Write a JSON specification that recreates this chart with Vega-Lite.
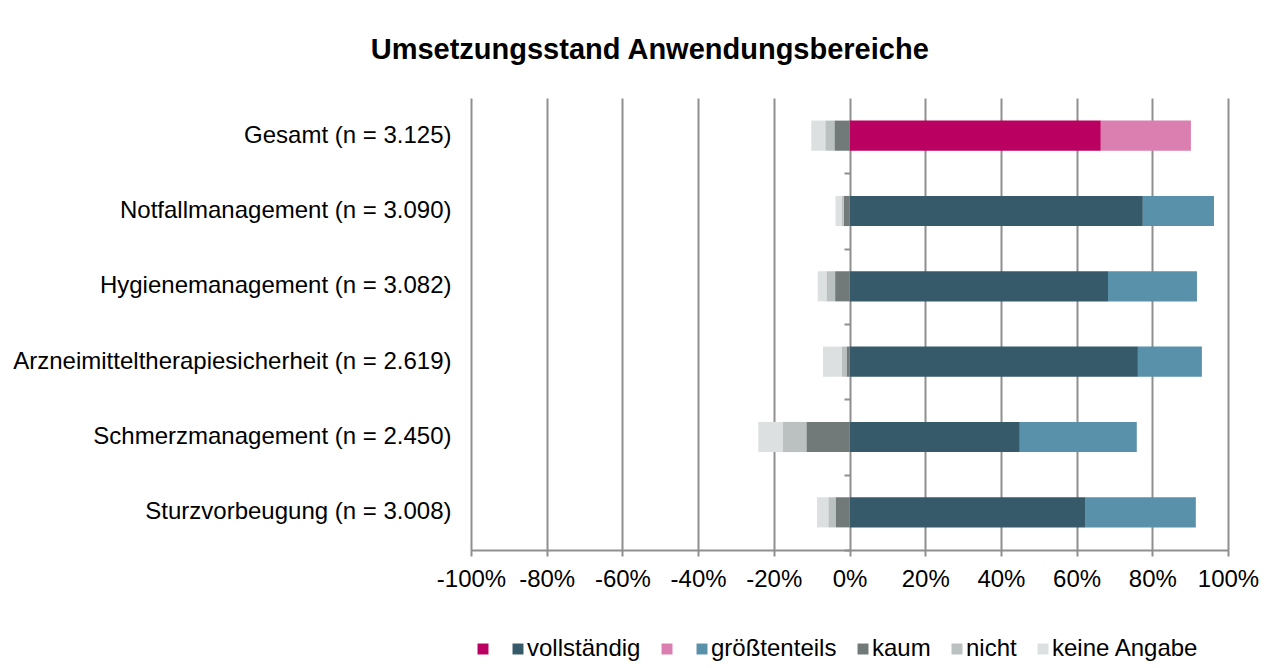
{
  "$schema": "https://vega.github.io/schema/vega-lite/v6.json",
  "width": 757,
  "height": 452,
  "padding": {"left": 12, "top": 36, "right": 20, "bottom": 5},
  "background": "white",
  "title": {
    "text": "Umsetzungsstand Anwendungsbereiche",
    "font": "Liberation Sans",
    "fontSize": 29,
    "fontWeight": "bold",
    "color": "black",
    "frame": "bounds",
    "anchor": "middle",
    "dx": 14,
    "offset": 33
  },
  "config": {
    "font": "Liberation Sans",
    "view": {"stroke": null}
  },
  "data": {
    "values": [
      {"bereich": "Gesamt (n = 3.125)", "antwort": "vollständig", "wert": 66.4},
      {"bereich": "Gesamt (n = 3.125)", "antwort": "größtenteils", "wert": 23.8},
      {"bereich": "Gesamt (n = 3.125)", "antwort": "kaum", "wert": -4.0},
      {"bereich": "Gesamt (n = 3.125)", "antwort": "nicht", "wert": -2.4},
      {"bereich": "Gesamt (n = 3.125)", "antwort": "keine Angabe", "wert": -3.7},
      {"bereich": "Notfallmanagement (n = 3.090)", "antwort": "vollständig", "wert": 77.5},
      {"bereich": "Notfallmanagement (n = 3.090)", "antwort": "größtenteils", "wert": 18.8},
      {"bereich": "Notfallmanagement (n = 3.090)", "antwort": "kaum", "wert": -1.5},
      {"bereich": "Notfallmanagement (n = 3.090)", "antwort": "nicht", "wert": -0.6},
      {"bereich": "Notfallmanagement (n = 3.090)", "antwort": "keine Angabe", "wert": -1.6},
      {"bereich": "Hygienemanagement (n = 3.082)", "antwort": "vollständig", "wert": 68.3},
      {"bereich": "Hygienemanagement (n = 3.082)", "antwort": "größtenteils", "wert": 23.5},
      {"bereich": "Hygienemanagement (n = 3.082)", "antwort": "kaum", "wert": -3.8},
      {"bereich": "Hygienemanagement (n = 3.082)", "antwort": "nicht", "wert": -2.3},
      {"bereich": "Hygienemanagement (n = 3.082)", "antwort": "keine Angabe", "wert": -2.3},
      {"bereich": "Arzneimitteltherapiesicherheit (n = 2.619)", "antwort": "vollständig", "wert": 76.2},
      {"bereich": "Arzneimitteltherapiesicherheit (n = 2.619)", "antwort": "größtenteils", "wert": 16.9},
      {"bereich": "Arzneimitteltherapiesicherheit (n = 2.619)", "antwort": "kaum", "wert": -0.8},
      {"bereich": "Arzneimitteltherapiesicherheit (n = 2.619)", "antwort": "nicht", "wert": -1.3},
      {"bereich": "Arzneimitteltherapiesicherheit (n = 2.619)", "antwort": "keine Angabe", "wert": -4.9},
      {"bereich": "Schmerzmanagement (n = 2.450)", "antwort": "vollständig", "wert": 45.0},
      {"bereich": "Schmerzmanagement (n = 2.450)", "antwort": "größtenteils", "wert": 30.9},
      {"bereich": "Schmerzmanagement (n = 2.450)", "antwort": "kaum", "wert": -11.4},
      {"bereich": "Schmerzmanagement (n = 2.450)", "antwort": "nicht", "wert": -6.3},
      {"bereich": "Schmerzmanagement (n = 2.450)", "antwort": "keine Angabe", "wert": -6.4},
      {"bereich": "Sturzvorbeugung (n = 3.008)", "antwort": "vollständig", "wert": 62.4},
      {"bereich": "Sturzvorbeugung (n = 3.008)", "antwort": "größtenteils", "wert": 29.1},
      {"bereich": "Sturzvorbeugung (n = 3.008)", "antwort": "kaum", "wert": -3.7},
      {"bereich": "Sturzvorbeugung (n = 3.008)", "antwort": "nicht", "wert": -1.9},
      {"bereich": "Sturzvorbeugung (n = 3.008)", "antwort": "keine Angabe", "wert": -3.0}
    ]
  },
  "transform": [
    {"calculate": "indexof(['vollständig','größtenteils','kaum','nicht','keine Angabe'], datum.antwort)", "as": "ord"},
    {"calculate": "(indexof(datum.bereich, 'Gesamt') === 0 && datum.ord < 2) ? datum.antwort + ' gesamt' : datum.antwort", "as": "farbe"}
  ],
  "encoding": {
    "y": {
      "field": "bereich",
      "type": "nominal",
      "sort": [
        "Gesamt (n = 3.125)",
        "Notfallmanagement (n = 3.090)",
        "Hygienemanagement (n = 3.082)",
        "Arzneimitteltherapiesicherheit (n = 2.619)",
        "Schmerzmanagement (n = 2.450)",
        "Sturzvorbeugung (n = 3.008)"
      ],
      "scale": {"paddingInner": 0.6, "paddingOuter": 0.3},
      "axis": {
        "title": null,
        "orient": "left",
        "ticks": false,
        "domain": false,
        "labelFontSize": 24,
        "labelColor": "black",
        "labelPadding": 20,
        "labelFont": "Liberation Sans",
        "labelLimit": 700
      }
    }
  },
  "layer": [
    {
      "mark": {"type": "bar"},
      "encoding": {
        "x": {
          "field": "wert",
          "type": "quantitative",
          "stack": "zero",
          "scale": {"domain": [-100, 100], "nice": false},
          "axis": {
            "title": null,
            "values": [-100, -80, -60, -40, -20, 0, 20, 40, 60, 80, 100],
            "labelExpr": "datum.value + '%'",
            "labelFontSize": 24,
            "labelColor": "black",
            "labelFont": "Liberation Sans",
            "labelPadding": 11,
            "grid": true,
            "gridColor": "#8f8f8f",
            "gridWidth": 2,
            "domainColor": "#8f8f8f",
            "domainWidth": 2,
            "tickColor": "#8f8f8f",
            "tickWidth": 2,
            "tickSize": 6,
            "labelFlush": false,
            "labelOverlap": false
          }
        },
        "color": {
          "field": "farbe",
          "type": "nominal",
          "scale": {
            "domain": ["vollständig gesamt", "vollständig", "größtenteils gesamt", "größtenteils", "kaum", "nicht", "keine Angabe"],
            "range": ["#BA0060", "#375A6B", "#DB7FB0", "#5A91AA", "#717A78", "#BAC1C0", "#DCE0E1"]
          },
          "legend": {
            "title": null,
            "orient": "bottom",
            "direction": "horizontal",
            "symbolType": "square",
            "symbolSize": 120,
            "symbolStrokeWidth": 0,
            "labelFontSize": 24,
            "labelColor": "black",
            "labelFont": "Liberation Sans",
            "labelLimit": 300,
            "labelOffset": -3,
            "columnPadding": 14,
            "offset": 46,
            "labelExpr": "indexof(datum.label, 'gesamt') >= 0 ? '' : datum.label"
          }
        },
        "order": {"field": "ord", "type": "quantitative"}
      }
    },
    {
      "mark": {"type": "tick", "opacity": 0},
      "encoding": {
        "x": {"datum": 0},
        "y": {
          "field": "bereich",
          "type": "nominal",
          "sort": [
            "Gesamt (n = 3.125)",
            "Notfallmanagement (n = 3.090)",
            "Hygienemanagement (n = 3.082)",
            "Arzneimitteltherapiesicherheit (n = 2.619)",
            "Schmerzmanagement (n = 2.450)",
            "Sturzvorbeugung (n = 3.008)"
          ],
          "axis": {
            "title": null,
            "orient": "left",
            "offset": -379,
            "labels": false,
            "domain": false,
            "ticks": true,
            "tickBand": "center",
            "tickOffset": 37.67,
            "tickSize": 6,
            "tickWidth": 2,
            "tickColor": "#8f8f8f"
          }
        }
      }
    }
  ],
  "resolve": {"axis": {"y": "independent"}}
}
